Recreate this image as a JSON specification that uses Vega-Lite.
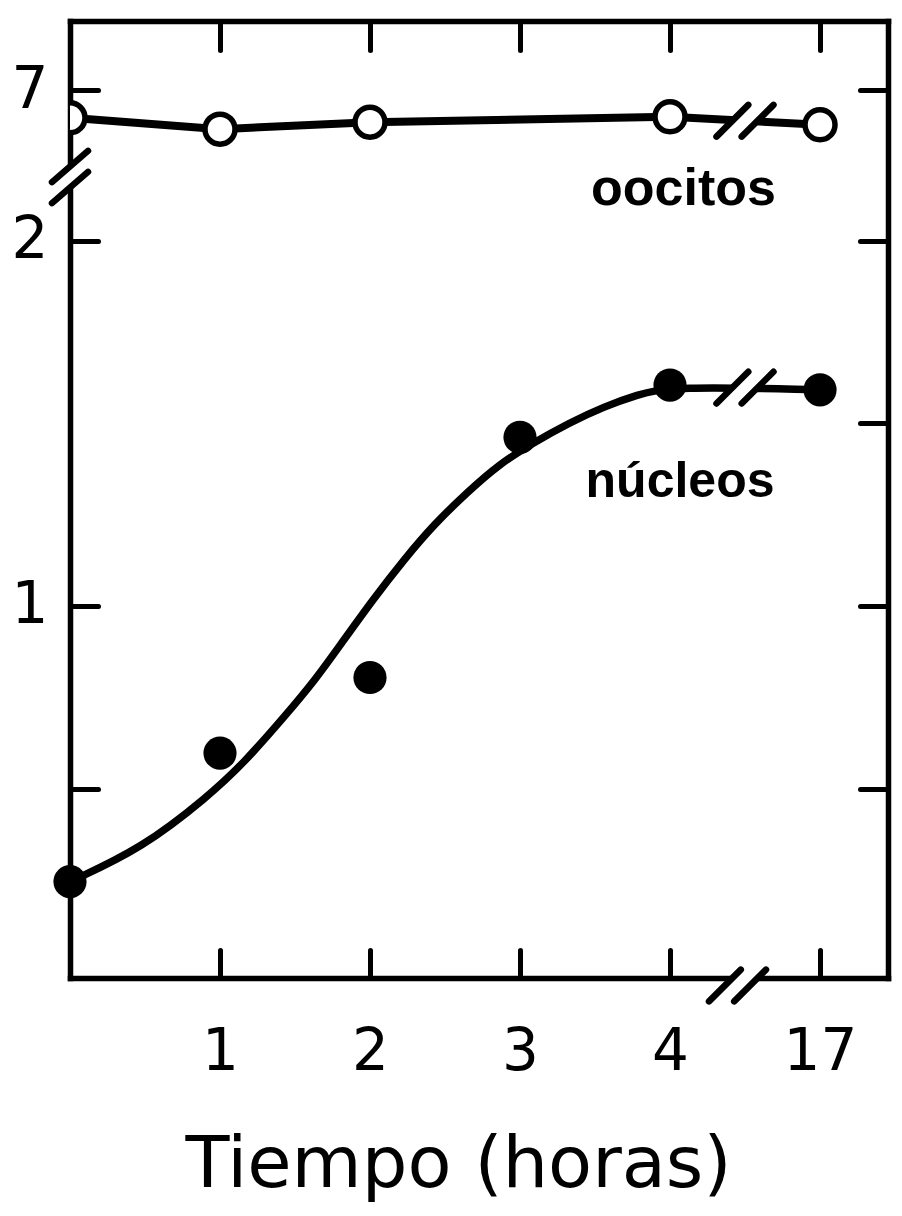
{
  "$schema": "https://vega.github.io/schema/vega-lite/v6.json",
  "width": 818,
  "height": 957,
  "autosize": {"type": "none"},
  "padding": {"left": 70, "top": 21, "right": 14, "bottom": 238},
  "background": "white",
  "config": {
    "view": {"stroke": null},
    "font": "DejaVu Sans",
    "axis": {
      "grid": false,
      "domainColor": "black",
      "domainWidth": 5.5,
      "domainCap": "square",
      "tickColor": "black",
      "tickWidth": 5,
      "tickCap": "round",
      "labelColor": "black",
      "labelFont": "DejaVu Sans",
      "labelFontSize": 58,
      "labelFlush": false,
      "labelOverlap": false,
      "titleColor": "black",
      "titleFont": "DejaVu Sans",
      "titleFontWeight": "normal"
    }
  },
  "datasets": {
    "medidas": [
      {"serie": "núcleos", "tiempo": 0, "valor": 0.245},
      {"serie": "núcleos", "tiempo": 1, "valor": 0.597},
      {"serie": "núcleos", "tiempo": 2, "valor": 0.804},
      {"serie": "núcleos", "tiempo": 3, "valor": 1.462},
      {"serie": "núcleos", "tiempo": 4, "valor": 1.605},
      {"serie": "núcleos", "tiempo": 17, "valor": 1.592},
      {"serie": "oocitos", "tiempo": 0, "valor": 6.924},
      {"serie": "oocitos", "tiempo": 1, "valor": 6.893},
      {"serie": "oocitos", "tiempo": 2, "valor": 6.912},
      {"serie": "oocitos", "tiempo": 4, "valor": 6.927},
      {"serie": "oocitos", "tiempo": 17, "valor": 6.905}
    ],
    "ajuste": [
      {"tiempo": 0, "valor": 0.245},
      {"tiempo": 0.48, "valor": 0.336},
      {"tiempo": 0.92, "valor": 0.478},
      {"tiempo": 1.16, "valor": 0.57},
      {"tiempo": 1.44, "valor": 0.702},
      {"tiempo": 1.63, "valor": 0.795},
      {"tiempo": 1.81, "valor": 0.898},
      {"tiempo": 2.02, "valor": 1.018},
      {"tiempo": 2.23, "valor": 1.129},
      {"tiempo": 2.43, "valor": 1.225},
      {"tiempo": 2.65, "valor": 1.312},
      {"tiempo": 2.86, "valor": 1.388},
      {"tiempo": 3.08, "valor": 1.445},
      {"tiempo": 3.33, "valor": 1.502},
      {"tiempo": 3.56, "valor": 1.546},
      {"tiempo": 3.78, "valor": 1.578},
      {"tiempo": 4.0, "valor": 1.602},
      {"tiempo": 17, "valor": 1.592}
    ]
  },
  "layer": [
    {
      "data": {"name": "ajuste"},
      "mark": {"type": "line", "interpolate": "basis", "stroke": "black", "strokeWidth": 7.5, "strokeCap": "round"},
      "encoding": {
        "x": {
          "field": "tiempo", "type": "quantitative",
          "scale": {"domain": [0, 4.5, 16.5, 17.453], "range": [0, 675, 675, 818], "nice": false, "zero": false},
          "axis": {"orient": "bottom", "values": [1, 2, 3, 4, 17], "ticks": false, "tickSize": 0, "domain": true, "labelPadding": 45, "title": "Tiempo (horas)", "titleFontSize": 72, "titlePadding": 48, "titleX": 388}
        },
        "y": {
          "field": "valor", "type": "quantitative",
          "scale": {"domain": [-0.019, 2.175, 6.762, 7.189], "range": [957, 156, 156, 0], "nice": false, "zero": false},
          "axis": {"orient": "left", "values": [1, 2, 7], "ticks": false, "tickSize": 0, "domain": true, "labelPadding": 22, "title": null}
        }
      }
    },
    {
      "data": {"name": "medidas"},
      "transform": [{"filter": "datum.serie === 'oocitos'"}],
      "mark": {"type": "line", "stroke": "black", "strokeWidth": 8},
      "encoding": {
        "x": {"field": "tiempo", "type": "quantitative", "axis": {"orient": "top", "values": [1, 2, 3, 4, 17], "labels": false, "tickSize": -29, "domain": true, "title": null}},
        "y": {"field": "valor", "type": "quantitative", "axis": {"orient": "right", "values": [0.5, 1, 1.5, 2, 7], "labels": false, "tickSize": -28, "domain": true, "title": null}}
      }
    },
    {
      "data": {"values": [{}]},
      "encoding": {
        "x": {"datum": 0, "type": "quantitative", "axis": null},
        "y": {"datum": 2.175, "type": "quantitative", "axis": null}
      },
      "layer": [
        {"mark": {"type": "point", "shape": "M-0.6,0.17L0.6,-0.87L0.6,-0.17L-0.6,0.87Z", "size": 3600, "filled": true, "fill": "white", "strokeWidth": 0, "opacity": 1}},
        {"mark": {"type": "point", "shape": "M-0.6,0.17L0.6,-0.87M-0.6,0.87L0.6,-0.17", "size": 3600, "filled": false, "stroke": "black", "strokeWidth": 6.5, "strokeCap": "round", "opacity": 1}}
      ]
    },
    {
      "data": {"values": [{}]},
      "encoding": {
        "x": {"datum": 4.5, "type": "quantitative", "axis": null},
        "y": {"datum": -0.019, "type": "quantitative", "axis": null}
      },
      "layer": [
        {"mark": {"type": "point", "shape": "M-1.2,0.78L-0.14,-0.28L0.7,-0.28L-0.36,0.78Z", "size": 3600, "filled": true, "fill": "white", "strokeWidth": 0, "opacity": 1}},
        {"mark": {"type": "point", "shape": "M-1.2,0.78L-0.14,-0.28M-0.36,0.78L0.7,-0.28", "size": 3600, "filled": false, "stroke": "black", "strokeWidth": 6.5, "strokeCap": "round", "opacity": 1}}
      ]
    },
    {
      "data": {"values": [{}]},
      "encoding": {
        "x": {"datum": 4.5, "type": "quantitative", "axis": null},
        "y": {"datum": 1.598, "type": "quantitative", "axis": null}
      },
      "layer": [
        {"mark": {"type": "point", "shape": "M-0.95,0.53L0.11,-0.53L0.95,-0.53L-0.11,0.53Z", "size": 3600, "filled": true, "fill": "white", "strokeWidth": 0, "opacity": 1}},
        {"mark": {"type": "point", "shape": "M-0.95,0.53L0.11,-0.53M-0.11,0.53L0.95,-0.53", "size": 3600, "filled": false, "stroke": "black", "strokeWidth": 6.5, "strokeCap": "round", "opacity": 1}}
      ]
    },
    {
      "data": {"values": [{}]},
      "encoding": {
        "x": {"datum": 4.5, "type": "quantitative", "axis": null},
        "y": {"datum": 6.916, "type": "quantitative", "axis": null}
      },
      "layer": [
        {"mark": {"type": "point", "shape": "M-0.95,0.53L0.11,-0.53L0.95,-0.53L-0.11,0.53Z", "size": 3600, "filled": true, "fill": "white", "strokeWidth": 0, "opacity": 1}},
        {"mark": {"type": "point", "shape": "M-0.95,0.53L0.11,-0.53M-0.11,0.53L0.95,-0.53", "size": 3600, "filled": false, "stroke": "black", "strokeWidth": 6.5, "strokeCap": "round", "opacity": 1}}
      ]
    },
    {
      "data": {"name": "medidas"},
      "transform": [{"filter": "datum.serie === 'núcleos'"}],
      "mark": {"type": "point", "shape": "circle", "filled": true, "fill": "black", "size": 1100, "opacity": 1},
      "encoding": {
        "x": {"field": "tiempo", "type": "quantitative", "axis": {"orient": "bottom", "values": [1, 2, 3, 4, 17], "labels": false, "tickSize": -28, "domain": false, "title": null}},
        "y": {"field": "valor", "type": "quantitative", "axis": {"orient": "left", "values": [0.5, 1, 2, 7], "labels": false, "tickSize": -28, "domain": false, "title": null}}
      }
    },
    {
      "data": {"name": "medidas"},
      "transform": [{"filter": "datum.serie === 'oocitos'"}],
      "mark": {"type": "point", "shape": "circle", "filled": true, "fill": "white", "stroke": "black", "strokeWidth": 5.5, "size": 900, "opacity": 1, "clip": true},
      "encoding": {
        "x": {"field": "tiempo", "type": "quantitative", "axis": null},
        "y": {"field": "valor", "type": "quantitative", "axis": null}
      }
    },
    {
      "data": {"values": [{}]},
      "mark": {"type": "text", "text": "oocitos", "font": "Liberation Sans", "fontWeight": "bold", "fontSize": 52, "align": "center", "baseline": "alphabetic", "color": "black"},
      "encoding": {
        "x": {"datum": 4.09, "type": "quantitative", "axis": null},
        "y": {"datum": 2.099, "type": "quantitative", "axis": null}
      }
    },
    {
      "data": {"values": [{}]},
      "mark": {"type": "text", "text": "núcleos", "font": "Liberation Sans", "fontWeight": "bold", "fontSize": 50, "align": "center", "baseline": "alphabetic", "color": "black"},
      "encoding": {
        "x": {"datum": 4.067, "type": "quantitative", "axis": null},
        "y": {"datum": 1.299, "type": "quantitative", "axis": null}
      }
    }
  ],
  "resolve": {"axis": {"x": "independent", "y": "independent"}}
}
